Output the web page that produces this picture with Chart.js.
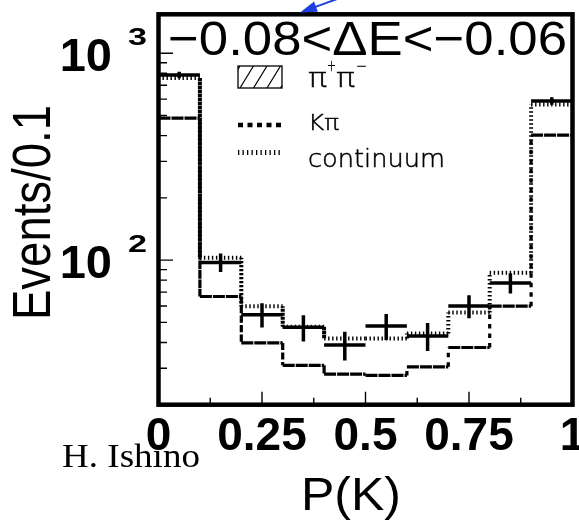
<!DOCTYPE html>
<html>
<head>
<meta charset="utf-8">
<title>P(K) distribution, -0.08 &lt; dE &lt; -0.06</title>
<script src="https://cdn.jsdelivr.net/npm/chart.js@4.4.1/dist/chart.umd.min.js"></script>
<style>
  html, body { margin: 0; padding: 0; background: #fff; }
  #wrap { width: 579px; height: 524px; }
</style>
</head>
<body>
<div id="wrap"><canvas id="pkChart" width="579" height="524"></canvas></div>
<script>
// P(K) bins (10 bins of 0.1)
const binEdges = [0, 0.1, 0.2, 0.3, 0.4, 0.5, 0.6, 0.7, 0.8, 0.9, 1.0];
const binCenters = [0.05, 0.15, 0.25, 0.35, 0.45, 0.55, 0.65, 0.75, 0.85, 0.95];

// K pi histogram (dashed)
const kpiCounts = [486, 66.7, 39.8, 31.0, 28.1, 27.7, 30.5, 37.8, 59.9, 402];
// continuum stacked on top of K pi (dotted)
const contTotal = [759, 102.6, 59.9, 47.6, 41.8, 41.8, 44.2, 55.8, 86.8, 565];
// data points and their errors
const dataCounts = [785, 97.5, 54.5, 47.3, 38.9, 48.0, 43.0, 60.0, 77.6, 588];
const dataErrors = [28, 10, 7.3, 6.9, 6.2, 6.9, 6.6, 7.7, 8.7, 24];

// axis ticks
const xTickMinor = [0.125, 0.375, 0.625, 0.875];
const xTickMajor = [0.25, 0.5, 0.75];
const xLabelValues = [0, 0.25, 0.5, 0.75, 1];
const xTickLabels = ["0", "0.25", "0.5", "0.75", "1"];
const yTickMinor = [20, 30, 40, 50, 60, 70, 80, 90, 200, 300, 400, 500, 600, 700, 800, 900];
const yTickMajor = [100, 1000];

const SANS = '"Liberation Sans", Arial, Helvetica, sans-serif';
const THIN = '"DejaVu Sans", "Liberation Sans", sans-serif';

// step histogram as a polyline: horizontal run per bin, vertical between bins
function histPoints(values) {
  const pts = [];
  values.forEach((v, i) => {
    pts.push({ x: binEdges[i], y: v });
    pts.push({ x: binEdges[i + 1], y: v });
  });
  return pts;
}

function isVertical(ctx) {
  return ctx.p0.parsed.x === ctx.p1.parsed.x;
}

// draw text squeezed/stretched to a given width
function drawFit(ctx, text, x, y, font, width, align, outline) {
  ctx.save();
  ctx.font = font;
  const w = ctx.measureText(text).width;
  const sx = width ? width / w : 1;
  ctx.translate(x, y);
  ctx.scale(sx, 1);
  ctx.textAlign = align || "left";
  ctx.textBaseline = "alphabetic";
  ctx.fillStyle = "#000";
  ctx.fillText(text, 0, 0);
  if (outline) {
    ctx.strokeStyle = "#000";
    ctx.lineWidth = outline;
    ctx.strokeText(text, 0, 0);
  }
  ctx.restore();
}

const decorPlugin = {
  id: "decor",
  afterDatasetsDraw(chart) {
    const ctx = chart.ctx;
    const xs = chart.scales.x;
    const ys = chart.scales.y;
    const a = chart.chartArea;

    // data crosses: bar over the bin width, vertical error bar
    ctx.save();
    ctx.strokeStyle = "#000";
    ctx.lineWidth = 3.5;
    ctx.lineCap = "butt";
    dataCounts.forEach((v, i) => {
      const yc = ys.getPixelForValue(v);
      const xc = xs.getPixelForValue(binCenters[i]);
      ctx.beginPath();
      ctx.moveTo(xs.getPixelForValue(binEdges[i]), yc);
      ctx.lineTo(xs.getPixelForValue(binEdges[i + 1]), yc);
      ctx.moveTo(xc, ys.getPixelForValue(v + dataErrors[i]));
      ctx.lineTo(xc, ys.getPixelForValue(v - dataErrors[i]));
      ctx.stroke();
    });
    ctx.restore();

    // frame
    ctx.save();
    ctx.strokeStyle = "#000";
    ctx.lineWidth = 4.5;
    ctx.strokeRect(a.left, a.top, a.right - a.left, a.bottom - a.top);

    // tick marks inside the frame
    ctx.lineWidth = 1.4;
    ctx.beginPath();
    xTickMajor.forEach(v => {
      const px = xs.getPixelForValue(v);
      ctx.moveTo(px, a.bottom);
      ctx.lineTo(px, a.bottom - 13);
    });
    xTickMinor.forEach(v => {
      const px = xs.getPixelForValue(v);
      ctx.moveTo(px, a.bottom);
      ctx.lineTo(px, a.bottom - 7);
    });
    yTickMajor.forEach(v => {
      const py = ys.getPixelForValue(v);
      ctx.moveTo(a.left, py);
      ctx.lineTo(a.left + 14.5, py);
    });
    yTickMinor.forEach(v => {
      const py = ys.getPixelForValue(v);
      ctx.moveTo(a.left, py);
      ctx.lineTo(a.left + 8.5, py);
    });
    ctx.stroke();
    ctx.restore();
  },
  afterDraw(chart) {
    const ctx = chart.ctx;
    const xs = chart.scales.x;
    const ys = chart.scales.y;

    // y tick labels 10^n
    yTickMajor.forEach(v => {
      const py = ys.getPixelForValue(v);
      drawFit(ctx, "10", 112, py + 17.7, "bold 47px " + SANS, 0, "right");
      drawFit(ctx, String(Math.round(Math.log10(v))), 128, py - 8.5, "bold 24px " + SANS, 19, "left");
    });

    // x tick labels
    xLabelValues.forEach((v, i) => {
      drawFit(ctx, xTickLabels[i], xs.getPixelForValue(v), 450, "bold 46px " + SANS, 0, "center");
    });

    // axis titles
    drawFit(ctx, "P(K)", 351, 510, "46px " + SANS, 100, "center");
    ctx.save();
    ctx.translate(50, 212.5);
    ctx.rotate(-Math.PI / 2);
    drawFit(ctx, "Events/0.1", 0, 0, "53px " + SANS, 215, "center");
    ctx.restore();

    // panel title
    drawFit(ctx, "\u22120.08<\u0394E<\u22120.06", 168, 55, "49px " + SANS, 399, "left");

    // author tag
    drawFit(ctx, "H. Ishino", 62, 467, '33px "Liberation Serif", "Times New Roman", serif', 138, "left");

    // legend
    ctx.save();
    ctx.strokeStyle = "#000";
    ctx.lineWidth = 1.3;
    ctx.strokeRect(238, 66, 44, 22);
    ctx.beginPath();
    ctx.rect(238, 66, 44, 22);
    ctx.clip();
    ctx.lineWidth = 1.2;
    ctx.beginPath();
    for (let k = -1; k < 4; k++) {
      const xb = 240 + k * 13.5;
      ctx.moveTo(xb, 88);
      ctx.lineTo(xb + 13.5, 66);
    }
    ctx.stroke();
    ctx.restore();

    ctx.save();
    ctx.strokeStyle = "#000";
    ctx.lineCap = "butt";
    ctx.lineWidth = 4.5;
    ctx.setLineDash([5, 4.5]);
    ctx.beginPath();
    ctx.moveTo(238, 125);
    ctx.lineTo(282, 125);
    ctx.stroke();
    ctx.lineWidth = 5;
    ctx.setLineDash([1.3, 3.2]);
    ctx.beginPath();
    ctx.moveTo(238, 152.5);
    ctx.lineTo(282, 152.5);
    ctx.stroke();
    ctx.restore();

    const lf = "200 26px " + THIN;
    const sf = "200 15px " + THIN;
    drawFit(ctx, "\u03c0", 308, 87, lf, 19, "left", 0.5);
    drawFit(ctx, "+", 327, 71, sf, 9, "left", 0.4);
    drawFit(ctx, "\u03c0", 336, 87, lf, 19, "left", 0.5);
    drawFit(ctx, "\u2212", 356, 71, sf, 11, "left", 0.4);
    drawFit(ctx, "K\u03c0", 308, 130, "200 22px " + THIN, 31, "left", 0.5);
    drawFit(ctx, "continuum", 308, 167, "200 25px " + THIN, 137, "left", 0.5);

    // blue arrow coming in from the top
    ctx.save();
    const tipX = 300, tipY = 12.5;
    const dx = 0.94, dy = -0.342;
    ctx.strokeStyle = "#1f3fe0";
    ctx.fillStyle = "#1f3fe0";
    ctx.lineWidth = 2;
    ctx.beginPath();
    ctx.moveTo(tipX + dx * 12, tipY + dy * 12);
    ctx.lineTo(tipX + dx * 55, tipY + dy * 55);
    ctx.stroke();
    ctx.beginPath();
    ctx.moveTo(tipX, tipY);
    ctx.lineTo(tipX + dx * 17 - dy * 5.5, tipY + dy * 17 + dx * 5.5);
    ctx.lineTo(tipX + dx * 17 + dy * 5.5, tipY + dy * 17 - dx * 5.5);
    ctx.closePath();
    ctx.fill();
    ctx.restore();
  }
};

new Chart(document.getElementById("pkChart"), {
  type: "line",
  data: {
    datasets: [
      {
        type: "scatter",
        label: "data",
        data: dataCounts.map((v, i) => ({ x: binCenters[i], y: v })),
        pointRadius: 0,
        showLine: false
      },
      {
        label: "K\u03c0",
        data: histPoints(kpiCounts),
        borderColor: "#000",
        borderWidth: 3.2,
        borderCapStyle: "butt",
        pointRadius: 0,
        tension: 0,
        fill: false,
        segment: {
          borderDash: ctx => (isVertical(ctx) ? [4.5, 5] : [12, 1])
        }
      },
      {
        label: "continuum",
        data: histPoints(contTotal),
        borderColor: "#000",
        borderWidth: 4,
        borderCapStyle: "butt",
        pointRadius: 0,
        tension: 0,
        fill: false,
        segment: {
          borderDash: ctx => (isVertical(ctx) ? [1.5, 2.5] : [1.4, 2.6])
        }
      }
    ]
  },
  options: {
    responsive: false,
    animation: false,
    layout: { padding: { left: 158.5, right: 6.5, top: 14.3, bottom: 119.3 } },
    scales: {
      x: { type: "linear", min: 0, max: 1, display: false },
      y: { type: "logarithmic", min: 20, max: 1543, display: false }
    },
    plugins: {
      legend: { display: false },
      tooltip: { enabled: false }
    }
  },
  plugins: [decorPlugin]
});
</script>
</body>
</html>
